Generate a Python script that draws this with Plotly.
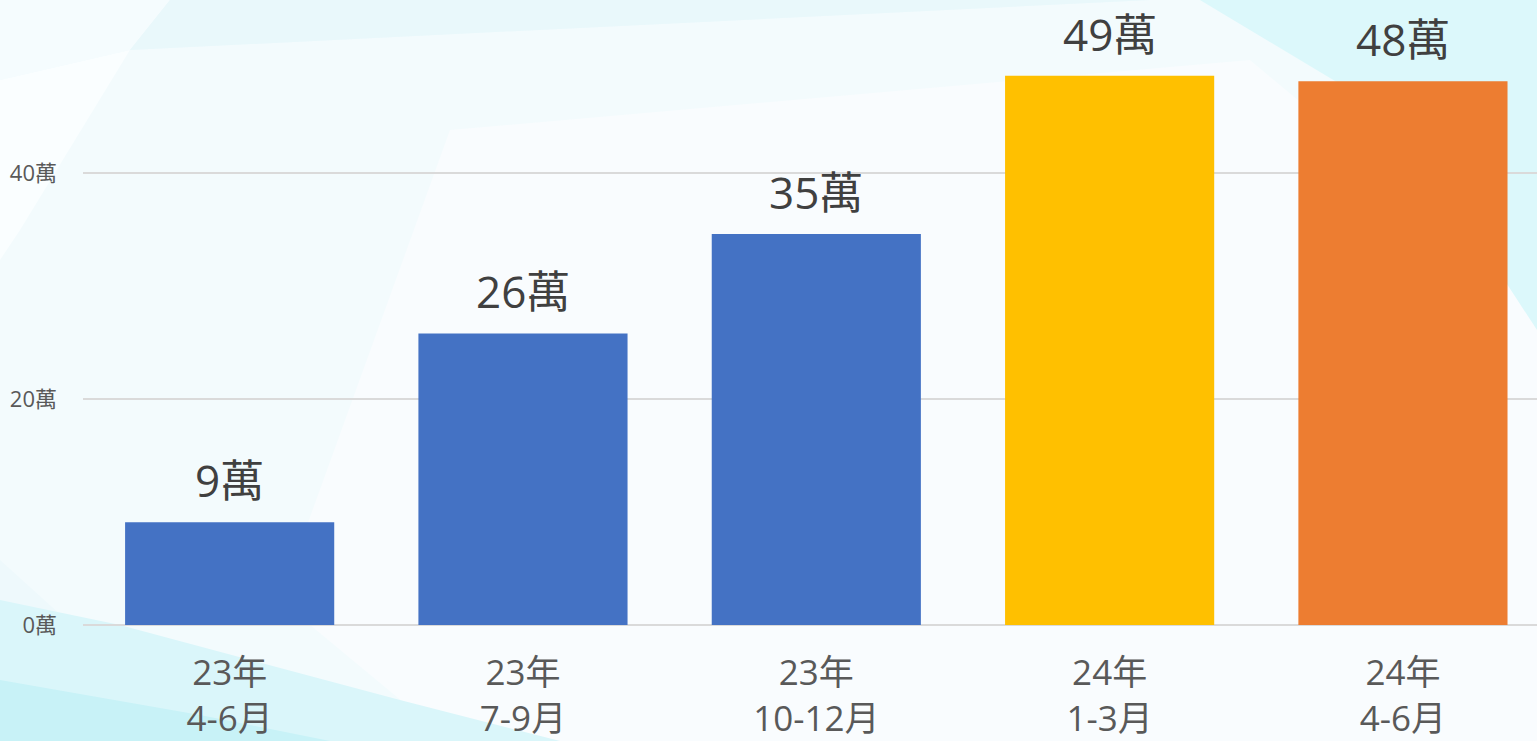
import plotly.graph_objects as go

categories = ["23年<br>4-6月", "23年<br>7-9月", "23年<br>10-12月", "24年<br>1-3月", "24年<br>4-6月"]
values = [9.1, 25.8, 34.6, 48.6, 48.1]
labels = ["9萬", "26萬", "35萬", "49萬", "48萬"]
bar_colors = ["#4472C4", "#4472C4", "#4472C4", "#FFC000", "#ED7D31"]
y_ticks = [0, 20, 40]
y_tick_text = ["0萬", "20萬", "40萬"]

W, H = 1537, 741
ML, MR, MT, MB = 83, 0, 0, 116
PW, PH = W - ML - MR, H - MT - MB

def px(x, y):
    return (x - ML) / PW, (H - MB - y) / PH

def poly(points, color, opacity=1.0):
    pts = [px(x, y) for x, y in points]
    path = "M " + " L ".join(f"{a:.4f},{b:.4f}" for a, b in pts) + " Z"
    return dict(type="path", xref="paper", yref="paper", path=path,
                fillcolor=color, line=dict(width=0), opacity=opacity, layer="below")

shapes = [
    poly([(0, 0), (W, 0), (W, H), (0, H)], "#eef9fc"),
    poly([(130, 50), (1150, 0), (1537, 0), (1537, 741), (200, 741), (0, 560), (0, 250)], "#f3fbfd"),
    poly([(450, 130), (1250, 60), (1537, 300), (1537, 741), (450, 741), (280, 600)], "#f9fcfe"),
    poly([(0, 0), (170, 0), (130, 50), (0, 80)], "#f5fcfe"),
    poly([(0, 80), (130, 50), (20, 230), (0, 260)], "#fafeff"),
    poly([(170, 0), (1150, 0), (130, 50)], "#e9f8fb"),
    poly([(1200, 0), (1537, 0), (1537, 330), (1400, 120)], "#dcf8fb"),
    poly([(0, 600), (120, 625), (400, 700), (560, 741), (0, 741)], "#daf6fa"),
    poly([(0, 680), (200, 715), (330, 741), (0, 741)], "#c8f2f7"),
]

fig = go.Figure(go.Bar(
    x=list(range(len(values))), y=values,
    marker=dict(color=bar_colors, line=dict(width=0)),
    hoverinfo="skip",
))

annotations = [
    dict(x=i, y=v, xref="x", yref="y", text=t, showarrow=False,
         yanchor="bottom", yshift=10,
         font=dict(size=44, color="#404040", family="Open Sans, Noto Sans CJK TC"))
    for i, (v, t) in enumerate(zip(values, labels))
]

fig.update_layout(
    width=W, height=H,
    margin=dict(l=ML, r=MR, t=MT, b=MB, pad=0, autoexpand=False),
    paper_bgcolor="#eef9fc",
    plot_bgcolor="rgba(0,0,0,0)",
    bargap=0.287,
    showlegend=False,
    shapes=shapes,
    annotations=annotations,
    xaxis=dict(
        range=[-0.5, 4.457], tickmode="array",
        tickvals=list(range(len(categories))), ticktext=categories,
        showgrid=False, zeroline=False, showline=False, ticks="",
        tickfont=dict(size=35, color="#595959", family="Open Sans, Noto Sans CJK TC"),
        ticklabelstandoff=24, fixedrange=True, automargin=False,
    ),
    yaxis=dict(
        range=[0, 55.3], tickmode="array", tickvals=y_ticks, ticktext=y_tick_text,
        showgrid=True, gridcolor="#dadada", gridwidth=2,
        zeroline=True, zerolinecolor="#dadada", zerolinewidth=2,
        showline=False, ticks="",
        tickfont=dict(size=22, color="#595959", family="Open Sans, Noto Sans CJK TC"),
        ticklabelstandoff=25, fixedrange=True, automargin=False,
    ),
    font=dict(family="Open Sans, Noto Sans CJK TC"),
)

post = "document.body.style.margin='0';document.body.style.overflow='hidden';document.body.style.background='#eef9fc';"
fig.write_html("out.html", config={"displayModeBar": False}, post_script=post)
